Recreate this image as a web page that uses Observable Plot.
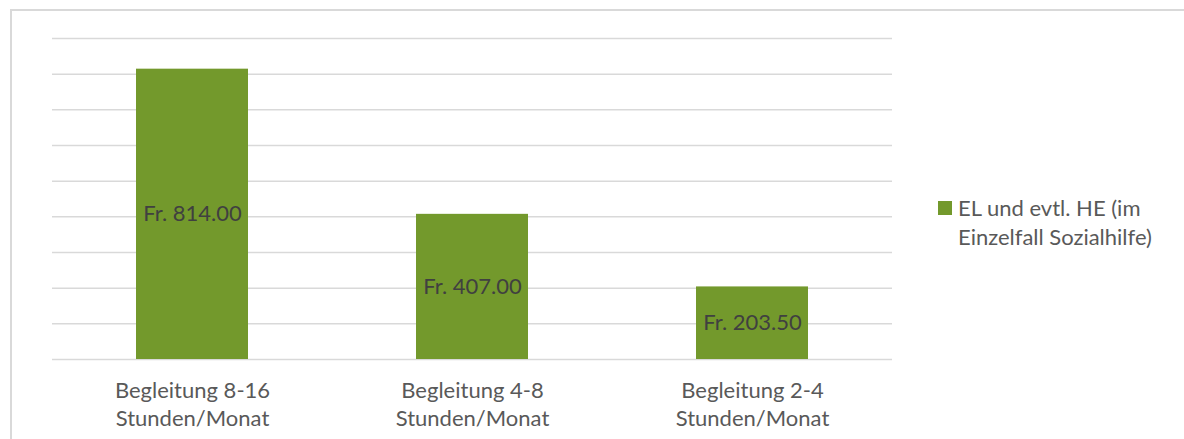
<!DOCTYPE html>
<html>
<head>
<meta charset="utf-8">
<script src="https://cdn.jsdelivr.net/npm/d3@7"></script>
<script src="https://cdn.jsdelivr.net/npm/@observablehq/plot@0.6"></script>
<style>
  html, body { margin: 0; padding: 0; background: #fff; overflow: hidden; }
  #wrap { position: relative; width: 1184px; height: 439px; }
  #border { position: absolute; left: 10px; top: 9px; width: 1300px; height: 600px; border: 2px solid #d9d9d9; box-sizing: border-box; }
  #chart { position: absolute; left: 0; top: 0; }
  #legend { position: absolute; left: 938px; top: 193px; font-family: Lato, "Open Sans", sans-serif; font-size: 22px; color: #595959; line-height: 29px; }
  #legend .sw { position: absolute; left: 0; top: 8px; width: 14px; height: 14px; background: #73992c; }
  #legend .tx { margin-left: 20px; }
</style>
</head>
<body>
<div id="wrap">
  <div id="border"></div>
  <div id="chart"></div>
  <div id="legend"><div class="sw"></div><div class="tx">EL und evtl. HE (im<br>Einzelfall Sozialhilfe)</div></div>
</div>
<script>
const categories = ["Begleitung 8-16 Stunden/Monat", "Begleitung 4-8 Stunden/Monat", "Begleitung 2-4 Stunden/Monat"];
const values = [814.00, 407.00, 203.50];
const gridTicks = [0, 100, 200, 300, 400, 500, 600, 700, 800, 900];
const seriesName = "EL und evtl. HE (im Einzelfall Sozialhilfe)";

const data = categories.map((c, i) => ({cat: c, value: values[i]}));
const green = "#73992c";

const chart = Plot.plot({
  width: 1184,
  height: 439,
  marginLeft: 52,
  marginRight: 292,
  marginTop: 38,
  marginBottom: 80,
  style: {fontFamily: "Lato, 'Open Sans', sans-serif", background: "transparent"},
  x: {domain: categories, paddingInner: 0.6, paddingOuter: 0.3, axis: null},
  y: {domain: [0, 900], axis: null},
  marks: [
    Plot.ruleY(gridTicks, {stroke: "#d9d9d9", strokeWidth: 1.5, strokeOpacity: 1}),
    Plot.barY(data, {x: "cat", y: "value", fill: green}),
    Plot.text(data, {x: "cat", y: d => d.value / 2, text: d => "Fr. " + d.value.toFixed(2), fill: "#404040", fontSize: 22}),
    Plot.axisX({tickSize: 0, tickPadding: 18, fontSize: 22, fill: "#595959", lineHeight: 1.28, label: null,
      tickFormat: d => d.replace(" Stunden", "\nStunden")})
  ]
});
document.getElementById("chart").appendChild(chart);
</script>
</body>
</html>
